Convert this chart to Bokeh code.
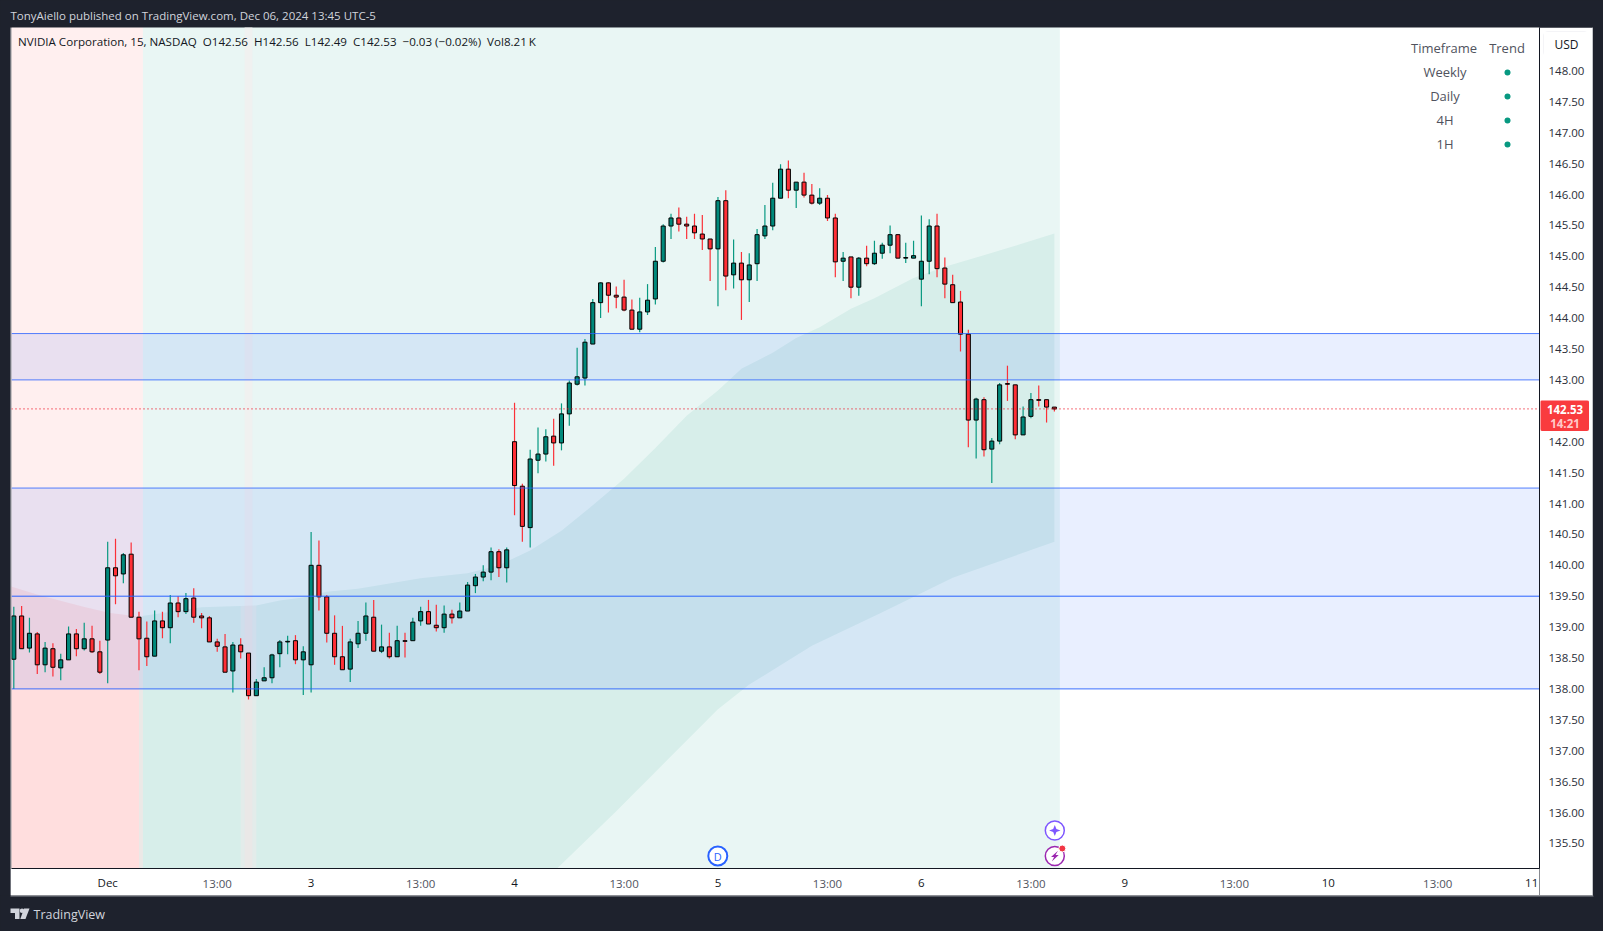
from bokeh.plotting import figure
from bokeh.embed import file_html
from bokeh.resources import INLINE
from bokeh.models import (Range1d, FixedTicker, Span, Label, ColumnDataSource)
from bokeh.core.properties import value

FONT = "Open Sans"
DARK = "#1e222d"
TEAL = "#089981"
RED = "#fb3038"

open_ = [138.48,139.18,138.66,138.89,138.39,138.65,138.34,138.47,138.89,138.65,138.81,138.60,138.79,139.96,139.86,140.18,139.16,138.82,138.53,139.10,138.99,139.39,139.25,139.47,139.18,139.15,138.76,138.68,138.29,138.71,138.58,137.89,138.13,138.18,138.57,138.76,138.78,138.47,138.39,140.00,139.49,138.90,138.52,138.32,138.73,138.90,139.16,138.61,138.68,138.52,138.78,138.78,139.10,139.25,139.03,138.99,139.21,139.15,139.26,139.67,139.81,139.89,140.22,139.96,142.00,141.28,140.61,141.70,141.80,142.09,141.98,142.45,142.93,143.03,143.58,144.25,144.57,144.37,144.34,144.13,143.82,144.10,144.31,144.92,145.49,145.62,145.52,145.49,145.36,145.28,145.12,145.90,144.70,144.89,144.62,144.88,145.33,145.49,145.94,146.41,146.07,146.20,145.99,145.86,145.94,145.62,144.92,144.99,144.50,144.97,144.88,145.05,145.18,145.35,144.97,144.97,144.63,144.92,145.49,144.81,144.54,144.26,143.74,142.35,142.68,141.88,142.01,142.94,142.92,142.11,142.41,142.68,142.68,142.56]
high = [139.33,139.34,139.15,138.92,138.76,138.74,138.57,139.01,138.97,139.07,139.02,138.78,140.38,140.43,140.20,140.37,139.25,139.09,139.27,139.25,139.52,139.50,139.55,139.63,139.23,139.18,138.81,138.89,138.76,138.82,138.58,138.16,138.35,138.57,138.79,138.86,138.87,138.69,140.54,140.40,139.52,139.19,139.02,138.81,139.10,139.40,139.44,139.04,138.91,139.02,138.91,139.15,139.33,139.44,139.36,139.35,139.28,139.40,139.73,139.86,140.00,140.29,140.26,140.29,142.63,141.32,141.87,142.23,142.20,142.37,142.62,142.99,143.52,143.66,144.31,144.58,144.58,144.51,144.62,144.30,144.33,144.55,145.15,145.52,145.69,145.79,145.64,145.69,145.67,145.28,145.96,146.07,145.27,145.07,145.05,145.44,145.83,146.19,146.49,146.55,146.20,146.35,146.17,146.10,145.99,145.69,145.07,144.99,144.99,145.17,145.25,145.22,145.50,145.36,145.22,145.25,145.66,145.60,145.69,144.98,144.70,144.44,143.81,142.71,142.72,142.06,142.95,143.23,142.92,142.57,142.79,142.91,142.68,142.56]
low = [138.00,138.65,138.59,138.24,138.27,138.20,138.14,138.47,138.53,138.62,138.58,138.24,138.09,139.37,139.71,139.16,138.30,138.37,138.53,138.82,138.74,139.16,139.21,139.07,138.98,138.76,138.60,138.27,137.94,138.49,137.83,137.89,138.13,138.09,138.35,138.56,138.40,137.90,137.94,139.27,138.75,138.39,138.31,138.11,138.66,138.78,138.61,138.58,138.49,138.52,138.51,138.78,139.02,139.05,138.93,138.91,139.06,139.15,139.26,139.55,139.74,139.76,139.81,139.72,140.81,140.38,140.29,141.49,141.68,141.61,141.86,142.26,142.91,142.91,143.58,144.00,144.09,144.16,144.11,143.82,143.77,144.05,144.22,144.90,145.28,145.40,145.28,145.28,145.10,144.60,144.19,144.45,144.48,143.97,144.26,144.60,145.28,145.42,145.94,145.94,145.78,145.95,145.84,145.83,145.57,144.66,144.60,144.32,144.36,144.84,144.86,144.96,145.05,144.97,144.89,144.97,144.19,144.71,144.66,144.32,144.25,143.46,141.91,141.73,141.76,141.33,141.96,142.66,142.04,142.11,142.38,142.57,142.31,142.49]
close = [139.18,138.65,138.90,138.39,138.66,138.35,138.47,138.89,138.65,138.81,138.60,138.27,139.96,139.83,140.17,139.16,138.81,138.52,139.10,138.99,139.39,139.25,139.46,139.16,139.15,138.76,138.69,138.27,138.71,138.60,137.89,138.11,138.18,138.55,138.76,138.77,138.47,138.60,140.00,139.49,138.90,138.52,138.31,138.76,138.90,139.18,138.61,138.68,138.52,138.78,138.77,139.08,139.25,139.05,138.99,139.21,139.15,139.26,139.68,139.81,139.89,140.22,139.96,140.25,141.29,140.63,141.72,141.80,142.08,141.98,142.45,142.95,143.05,143.61,144.25,144.57,144.37,144.34,144.13,143.82,144.10,144.29,144.92,145.49,145.62,145.52,145.49,145.38,145.28,145.12,145.90,144.68,144.89,144.62,144.86,145.35,145.49,145.94,146.41,146.07,146.20,145.99,145.86,145.94,145.62,144.91,144.97,144.50,144.97,144.88,145.05,145.18,145.35,144.97,144.98,145.01,144.92,145.49,144.80,144.55,144.25,143.74,142.35,142.69,141.87,142.01,142.92,142.93,142.11,142.40,142.68,142.67,142.56,142.53]

# Trend cloud (bar number, price)
red_upper_x = [-1, 3.4, 8.9, 12.3, 16]
red_upper_y = [139.68, 139.51, 139.33, 139.23, 139.17]
red_lower_x = [-1, 16]
red_lower_y = [133.0, 133.4]
teal_upper_x = [16, 24, 29, 31, 34, 37, 40, 44, 52, 58, 62, 66, 70, 74, 78, 82, 86, 90, 93, 97, 100, 103, 107, 110, 115, 119, 123, 128, 133]
teal_upper_y = [139.17, 139.32, 139.34, 139.35, 139.43, 139.48, 139.57, 139.62, 139.79, 139.87, 140.00, 140.24, 140.56, 140.97, 141.40, 141.90, 142.42, 142.83, 143.18, 143.44, 143.68, 143.85, 144.15, 144.32, 144.65, 144.83, 144.98, 145.17, 145.37]
teal_lower_x = [16, 29, 31, 50, 69.5, 77, 84, 90, 94, 102, 111, 120, 133]
teal_lower_y = [133.4, 133.7, 133.7, 134.3, 135.10, 136.02, 136.91, 137.67, 138.07, 138.70, 139.24, 139.80, 140.38]

# Background state per stretch of bars
bg_left = [-2, 16.5, 133.7]
bg_right = [16.5, 133.7]
strip_left, strip_right = 29.5, 30.5

zone_top = [143.75, 141.25]
zone_bottom = [143.00, 138.00]
level_lines = [143.75, 143.00, 141.25, 139.50, 138.00]
level_alpha = [0.8, 0.8, 0.8, 1.0, 0.9]
last_price = 142.53

price_ticks = [135.5 + 0.5 * k for k in range(26)]
time_ticks_day = [12, 38, 64, 90, 116, 142, 168, 194]
time_labels_day = ["Dec", "3", "4", "5", "6", "9", "10", "11"]
time_ticks_hour = [26, 52, 78, 104, 130, 156, 182]
time_label_hour = "13:00"

table_header = ["Timeframe", "Trend"]
table_rows = ["Weekly", "Daily", "4H", "1H"]

title_text = "TonyAiello published on TradingView.com, Dec 06, 2024 13:45 UTC-5"
legend_text = ("NVIDIA Corporation, 15, NASDAQ\u00a0\u00a0O142.56\u00a0\u00a0H142.56\u00a0\u00a0L142.49\u00a0\u00a0C142.53"
               "\u00a0\u00a0\u22120.03 (\u22120.02%)\u00a0\u00a0Vol8.21\u2009K")

# page pixel -> data helpers for furniture
def xd(px):
    return (px - 13.3) / 7.824
def yd(py):
    return 143 + (379.4 - py) / 61.8

def place(left, top, extra=None):
    st = {"position": "absolute", "left": f"{left}px", "top": f"{top}px"}
    st.update(extra or {})
    return st

# ---- main chart ----
p = figure(width=1583, height=904, output_backend="svg", toolbar_location=None,
           x_range=Range1d(xd(11), xd(1539)), y_range=Range1d(yd(868), yd(27)),
           x_axis_location="below", y_axis_location="right",
           min_border_left=1, min_border_right=54, min_border_top=0, min_border_bottom=63,
           background_fill_color="white", border_fill_color="white", outline_line_color=None,
           styles=place(10, 27))
p.grid.visible = False

# Backgrounds
p.quad(left=[bg_left[0]], right=[bg_right[0]], top=[149], bottom=[135], fill_color="#ff5252", fill_alpha=0.09, line_color=None)
p.quad(left=[bg_left[1]], right=[bg_right[1]], top=[149], bottom=[135], fill_color=TEAL, fill_alpha=0.09, line_color=None)
p.quad(left=[strip_left], right=[strip_right], top=[149], bottom=[135], fill_color="#f1f0ef", fill_alpha=0.85, line_color=None)

# Cloud
p.patch(x=red_upper_x + red_lower_x[::-1], y=red_upper_y + red_lower_y[::-1], fill_color="#ff5252", fill_alpha=0.1, line_color=None)
ia = teal_upper_x.index(29); ib = teal_upper_x.index(31)
la = teal_lower_x.index(29); lb = teal_lower_x.index(31)
p.patch(x=teal_upper_x[:ia+1] + teal_lower_x[:la+1][::-1], y=teal_upper_y[:ia+1] + teal_lower_y[:la+1][::-1],
        fill_color=TEAL, fill_alpha=0.08, line_color=None)
p.patch(x=teal_upper_x[ib:] + teal_lower_x[lb:][::-1], y=teal_upper_y[ib:] + teal_lower_y[lb:][::-1],
        fill_color=TEAL, fill_alpha=0.08, line_color=None)
p.patch(x=teal_upper_x[ia:ib+1] + teal_lower_x[la:lb+1][::-1], y=teal_upper_y[ia:ib+1] + teal_lower_y[la:lb+1][::-1],
        fill_color="#a08080", fill_alpha=0.08, line_color=None)

# Blue zones
p.quad(left=[-2, -2], right=[xd(1540), xd(1540)], top=zone_top, bottom=zone_bottom,
       fill_color="#2962ff", fill_alpha=0.1, line_color=None)
for lv, la_ in zip(level_lines, level_alpha):
    p.add_layout(Span(location=lv, dimension="width", line_color="#2962ff", line_alpha=la_, line_width=1, level="glyph"))

# Candles
n = len(open_)
idx = list(range(n))
up = [c > o for o, c in zip(open_, close)]
src = ColumnDataSource(dict(x=idx, high=high, low=low,
                            top=[max(o, c) for o, c in zip(open_, close)],
                            bottom=[min(o, c) for o, c in zip(open_, close)],
                            color=[TEAL if u else RED for u in up],
                            body=["#00897b" if u else "#ff2f36" for u in up]))
p.segment(x0="x", y0="high", x1="x", y1="low", line_color="color", line_width=1.2, source=src)
p.vbar(x="x", width=0.52, top="top", bottom="bottom", fill_color="body", line_color="#000000", line_width=1, source=src)

p.add_layout(Span(location=last_price, dimension="width", line_color="#f01f2e", line_dash="1 3", line_width=1.2))

# Axes
ya = p.yaxis[0]
ya.ticker = FixedTicker(ticks=price_ticks)
ya.major_label_overrides = {t: f"{t:.2f}" for t in price_ticks}
ya.major_tick_in = 0; ya.major_tick_out = 0; ya.minor_tick_in = 0; ya.minor_tick_out = 0
ya.axis_line_color = "#131722"
ya.major_label_text_color = "#2a2e39"
ya.major_label_text_font = FONT
ya.major_label_text_font_size = "11.5px"
ya.major_label_standoff = 9

def style_time_axis(ax, ticks, overrides, color):
    ax.ticker = FixedTicker(ticks=ticks)
    ax.major_label_overrides = overrides
    ax.major_tick_in = 0; ax.major_tick_out = 0; ax.minor_tick_in = 0; ax.minor_tick_out = 0
    ax.major_label_text_color = color
    ax.major_label_text_font = FONT
    ax.major_label_text_font_size = "11.5px"
    ax.major_label_standoff = 6

xa = p.xaxis[0]
style_time_axis(xa, time_ticks_day, dict(zip(time_ticks_day, time_labels_day)), "#131722")
xa.axis_line_color = "#131722"

# Second time axis in lighter grey, on a transparent strip aligned with the main one
hours = figure(width=1528, height=27, output_backend="svg", toolbar_location=None,
               x_range=p.x_range, y_range=Range1d(0, 1),
               x_axis_location="below", y_axis_location=None,
               min_border_left=0, min_border_right=0, min_border_top=0, min_border_bottom=26,
               background_fill_alpha=0, border_fill_alpha=0, outline_line_color=None,
               styles=place(11, 868))
hours.grid.visible = False
style_time_axis(hours.xaxis[0], time_ticks_hour, {t: time_label_hour for t in time_ticks_hour}, "#50535e")
hours.xaxis[0].axis_line_color = None

def label(text, px, py, size="12px", color="#131722", align="left", style="normal"):
    p.add_layout(Label(x=xd(px), y=yd(py), text=text, text_font=FONT, text_font_size=size,
                       text_color=color, text_align=align, text_baseline="middle", text_font_style=style))

label(legend_text, 17.5, 41, "11.6px", "#131722")

# Table
label(table_header[0], 1443.5, 47, "13px", "#50535e", "center")
label(table_header[1], 1506.5, 47, "13px", "#50535e", "center")
row_y = [72, 96, 120, 144]
for name, yy in zip(table_rows, row_y):
    label(name, 1444.5, yy - 1, "13px", "#50535e", "center")
p.scatter(x=[xd(1507)] * 4, y=[yd(v) for v in row_y], size=6, marker="circle", fill_color=TEAL, line_color=None)

# Markers on the chart
p.scatter(x=[xd(717.3)], y=[yd(855.5)], size=19, marker="circle", fill_color="white", line_color="#2962ff", line_width=2)
p.text(x=[xd(717.3)], y=[yd(855.5)], text=["D"], text_font=value(FONT), text_font_size="11px", text_color="#2962ff",
       text_align="center", text_baseline="middle")
p.scatter(x=[xd(1054.3)], y=[yd(830)], size=19, marker="circle", fill_color="white", line_color="#7e57ff", line_width=1.5)
sx = [1054.3, 1055.9, 1060, 1055.9, 1054.3, 1052.7, 1048.6, 1052.7]
sy = [824.5, 828.4, 830, 831.6, 835.5, 831.6, 830, 828.4]
p.patch(x=[xd(v) for v in sx], y=[yd(v) for v in sy], fill_color="#7e57ff", line_color=None)
p.scatter(x=[xd(1054.3)], y=[yd(855.5)], size=19, marker="circle", fill_color="white", line_color="#9c27b0", line_width=1.5)
bx = [1057.5, 1050.5, 1053.6, 1051.3, 1058.2, 1055]
by = [850.2, 856.6, 856.6, 861, 854.6, 854.6]
p.patch(x=[xd(v) for v in bx], y=[yd(v) for v in by], fill_color="#9c27b0", line_color=None)
p.scatter(x=[xd(1061.8)], y=[yd(848)], size=7, marker="circle", fill_color="#f23645", line_color="white", line_width=1)

# ---- small panels, each a plain pixel-scaled figure ----
def panel(left, top, w, h, bg, extra=None):
    f = figure(width=w, height=h, output_backend="svg", toolbar_location=None,
               x_range=Range1d(left, left + w), y_range=Range1d(top + h, top),
               x_axis_location=None, y_axis_location=None,
               min_border=0, min_border_left=0, min_border_right=0, min_border_top=0, min_border_bottom=0,
               background_fill_color=bg, border_fill_color=bg, outline_line_color=None,
               styles=place(left, top, extra))
    f.grid.visible = False
    return f

def ptext(f, text, px, py, size, color, align="left", style="normal"):
    f.text(x=[px], y=[py], text=[text], text_font=value(FONT), text_font_size=value(size), text_color=color,
           text_align=align, text_baseline="middle", text_font_style=style)

header = panel(0, 0, 1603, 27, DARK)
ptext(header, title_text, 10, 15, "11.5px", "#d1d4dc")

left_edge = panel(10, 27, 1, 868, "#8a8d96")
right_edge = panel(1592, 27, 1, 868, "#8a8d96")
cross_h = panel(1539, 868, 53, 1, "#131722")
cross_v = panel(1539, 868, 1, 27, "#131722")

footer = panel(0, 895, 1603, 36, DARK)
footer.quad(left=[10], right=[1593], top=[895], bottom=[896], fill_color="#8a8d96", line_color=None)
footer.patch(x=[10, 19, 19, 14.5, 14.5, 10], y=[908, 908, 918.5, 918.5, 912.5, 912.5], fill_color="#d1d4dc", line_color=None)
footer.patch(x=[23.5, 29, 25, 19.8], y=[908, 908, 918.5, 918.5], fill_color="#d1d4dc", line_color=None)
footer.scatter(x=[21.5], y=[910.2], size=4.5, marker="circle", fill_color="#d1d4dc", line_color=None)
ptext(footer, "TradingView", 33, 913.5, "12.5px", "#d1d4dc", "left", "normal")

usd = panel(1543, 31, 46, 26, "white", {"outline": "1px solid #e8e9ef", "outline-offset": "-1px", "border-radius": "5px"})
ptext(usd, "USD", 1566, 44, "12px", "#131722", "center")

tag = panel(1540, 400, 49, 31, "#f93b3e", {"border-radius": "2px", "overflow": "hidden"})
ptext(tag, "142.53", 1564.5, 409, "11.5px", "#ffffff", "center", "bold")
ptext(tag, "14:21", 1564.5, 423, "11.5px", "#ffc9c9", "center", "bold")

roots = [p, hours, header, left_edge, right_edge, cross_h, cross_v, footer, usd, tag]
html = file_html(roots, INLINE)
html = html.replace("<head>", "<head><style>html,body{background:#1e222d;overflow:hidden}</style>", 1)
open("out.html", "w").write(html)
